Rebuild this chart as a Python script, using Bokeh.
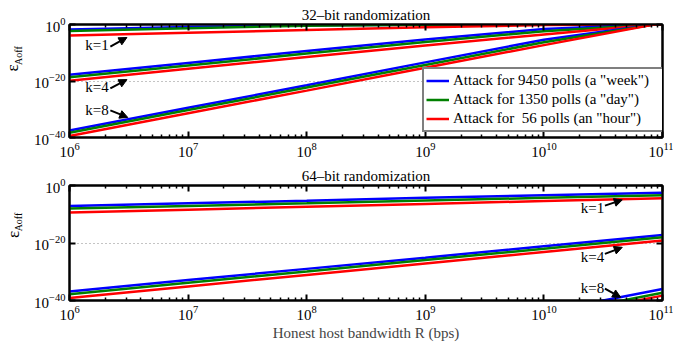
import numpy as np
from bokeh.plotting import figure
from bokeh.layouts import column
from bokeh.models import (Range1d, FixedTicker, LogAxis, Legend, LegendItem,
                          Label, Arrow, NormalHead, CustomJSTickFormatter)
from bokeh.embed import file_html
from bokeh.resources import INLINE

# ---------------- data (log10 of epsilon_Aoff) ----------------
R_TOP = [1e6, 1e7, 1e8, 1e9, 1e10, 8.5e10, 1e11]
R_BOT = [1e6, 1e7, 1e8, 1e9, 1e10, 1e11]

SERIES = ['Attack for 9450 polls (a "week")',
          'Attack for 1350 polls (a "day")',
          'Attack for  56 polls (an "hour")']
COLORS = ["#0000ff", "#008000", "#ff0000"]
K_LABELS = ["k=1", "k=4", "k=8"]
TITLES = ["32\u2013bit randomization", "64\u2013bit randomization"]
X_LABEL = "Honest host bandwidth R (bps)"
Y_SYMBOL = "\u03b5"
Y_SUB = "Aoff"

# 32-bit randomization
top_k1_week = [-1.8, -0.85, -0.25, -0.05, 0.0, 0.0, 0.0]
top_k1_day = [-2.3, -1.3, -0.45, -0.1, -0.02, 0.0, 0.0]
top_k1_hour = [-3.9, -2.9, -1.95, -1.0, -0.2, 0.0, 0.0]
top_k4_week = [-17.8, -13.6, -9.4, -5.3, -1.6, 0.0, 0.0]
top_k4_day = [-18.7, -14.5, -10.3, -6.2, -2.4, 0.0, 0.0]
top_k4_hour = [-19.9, -15.7, -11.5, -7.4, -3.5, 0.0, 0.0]
top_k8_week = [-37.5, -29.5, -21.5, -13.4, -5.4, 0.0, 0.0]
top_k8_day = [-38.3, -30.3, -22.3, -14.3, -6.3, 0.0, 0.0]
top_k8_hour = [-39.5, -31.4, -23.4, -15.3, -7.3, 0.0, 0.0]

# 64-bit randomization
bot_k1_week = [-7.1, -6.2, -5.3, -4.3, -3.4, -2.5]
bot_k1_day = [-8.0, -7.1, -6.2, -5.2, -4.3, -3.4]
bot_k1_hour = [-9.4, -8.4, -7.4, -6.4, -5.4, -4.4]
bot_k4_week = [-36.9, -32.9, -29.0, -25.1, -21.1, -17.2]
bot_k4_day = [-37.8, -33.8, -29.9, -25.9, -22.0, -18.0]
bot_k4_hour = [-39.1, -35.1, -31.1, -27.1, -23.1, -19.1]
bot_k8_week = [-76.0, -68.0, -60.0, -52.0, -44.0, -36.0]
bot_k8_day = [-77.3, -69.3, -61.3, -53.3, -45.3, -37.3]
bot_k8_hour = [-78.3, -70.3, -62.3, -54.3, -46.3, -38.3]

TOP = [[top_k1_week, top_k1_day, top_k1_hour],
       [top_k4_week, top_k4_day, top_k4_hour],
       [top_k8_week, top_k8_day, top_k8_hour]]
BOT = [[bot_k1_week, bot_k1_day, bot_k1_hour],
       [bot_k4_week, bot_k4_day, bot_k4_hour],
       [bot_k8_week, bot_k8_day, bot_k8_hour]]

# annotation anchors (R, log10 eps): text left/center, arrow start, arrow end
TOP_NOTES = [((1.36e6, -7.4), (2.21e6, -7.8), (3.05e6, -4.6)),
             ((1.36e6, -22.3), (2.21e6, -22.6), (3.05e6, -19.5)),
             ((1.36e6, -30.1), (2.21e6, -30.4), (3.1e6, -32.9))]
BOT_NOTES = [((2.05e10, -7.8), (3.27e10, -7.0), (4.58e10, -5.0)),
             ((2.05e10, -24.7), (3.27e10, -23.8), (4.58e10, -21.5)),
             ((2.05e10, -35.8), (3.27e10, -35.9), (4.44e10, -38.9))]
# vertical centres (log10 eps) of the y-label symbol and of its subscript
TOP_YLAB = (-15.4, -11.0)
BOT_YLAB = (-17.0, -12.7)

FONT = "Liberation Serif"
X_MAJOR = [1e6, 1e7, 1e8, 1e9, 1e10, 1e11]
X_MINOR = [m * 10.0 ** d for d in range(6, 11) for m in range(2, 10)]
Y_MAJOR = [1e-40, 1e-20, 1e0]

W = 673


def style_axis(ax, labels=True):
    ax.axis_line_color = "black"
    ax.axis_line_width = 2
    ax.major_tick_in = 6
    ax.major_tick_out = 0
    ax.minor_tick_in = 3
    ax.minor_tick_out = 0
    ax.major_tick_line_width = 2
    ax.minor_tick_line_width = 1.5
    ax.major_tick_line_color = "black"
    ax.minor_tick_line_color = "black"
    ax.major_label_text_font = FONT
    ax.major_label_text_font_size = "15px"
    ax.major_label_text_color = "black"
    if not labels:
        ax.major_label_text_font_size = "1px"
        ax.major_label_text_alpha = 0.0
        ax.major_label_standoff = 0


def text_axis(pos, text, size, standoff):
    ax = LogAxis(ticker=FixedTicker(ticks=[10.0 ** pos], minor_ticks=[]),
                 formatter=CustomJSTickFormatter(args=dict(s=text),
                                                 code="return s"))
    ax.axis_line_color = None
    ax.major_tick_line_color = None
    ax.minor_tick_line_color = None
    ax.major_tick_in = 0
    ax.major_tick_out = 0
    ax.minor_tick_in = 0
    ax.minor_tick_out = 0
    ax.major_label_orientation = "parallel"
    ax.major_label_text_font = FONT
    ax.major_label_text_font_size = size
    ax.major_label_text_color = "black"
    try:
        ax.major_label_standoff = standoff
    except Exception:
        ax.major_label_standoff = 0
    return ax


def make_panel(title, R, data, notes, ylab, height, b_top, b_bot, t_standoff,
               legend, xlabel):
    p = figure(width=W, height=height, x_axis_type="log", y_axis_type="log",
               x_range=Range1d(1e6, 1e11), y_range=Range1d(1e-40, 1.0),
               output_backend="svg", toolbar_location=None,
               min_border_left=67, min_border_right=11,
               min_border_top=b_top, min_border_bottom=b_bot)
    p.background_fill_color = "white"
    p.border_fill_color = "white"
    p.outline_line_color = "black"
    p.outline_line_width = 2

    p.title.text = title
    p.title.text_font = FONT
    p.title.text_font_size = "15px"
    p.title.text_font_style = "normal"
    p.title.text_color = "black"
    p.title.align = "center"
    p.title.vertical_align = "top"
    p.title.standoff = t_standoff

    xt = FixedTicker(ticks=X_MAJOR, minor_ticks=X_MINOR)
    yt = FixedTicker(ticks=Y_MAJOR, minor_ticks=[])
    bottom_ax = p.below[0]
    left_ax = p.left[0]
    bottom_ax.ticker = xt
    left_ax.ticker = yt
    style_axis(bottom_ax)
    style_axis(left_ax)
    bottom_ax.major_label_standoff = 5
    left_ax.major_label_standoff = 4
    top_ax = LogAxis(ticker=xt)
    right_ax = LogAxis(ticker=yt)
    style_axis(top_ax, labels=False)
    style_axis(right_ax, labels=False)
    p.add_layout(top_ax, "above")
    p.add_layout(right_ax, "right")

    # y label: symbol with its subscript, as label-only axes
    p.add_layout(text_axis(ylab[1], Y_SUB, "10px", 7), "left")
    p.add_layout(text_axis(ylab[0], Y_SYMBOL, "17px", -12), "left")

    p.xgrid.grid_line_color = None
    p.ygrid.grid_line_color = "#888888"
    p.ygrid.grid_line_dash = "1 3"
    p.ygrid.grid_line_width = 1

    x = np.array(R)
    renderers = []
    for kdata in data:
        rs = []
        for vals, c in zip(kdata, COLORS):
            r = p.line(x, 10.0 ** np.array(vals), line_color=c, line_width=2.5)
            rs.append(r)
        renderers.append(rs)

    for (tpos, a0, a1), lab in zip(notes, K_LABELS):
        p.add_layout(Label(x=tpos[0], y=10.0 ** tpos[1], text=lab,
                           text_font=FONT, text_font_size="15px",
                           text_baseline="middle", text_align="left",
                           text_color="black"))
        p.add_layout(Arrow(x_start=a0[0], y_start=10.0 ** a0[1],
                           x_end=a1[0], y_end=10.0 ** a1[1],
                           line_width=2, line_color="black",
                           end=NormalHead(size=8, fill_color="black",
                                          line_color="black")))

    if legend:
        items = [LegendItem(label=s, renderers=[renderers[0][i]])
                 for i, s in enumerate(SERIES)]
        lg = Legend(items=items, location=(353, 5))
        lg.label_text_font = FONT
        lg.label_text_font_size = "15px"
        lg.label_text_color = "black"
        lg.glyph_width = 23
        lg.glyph_height = 19
        lg.label_height = 19
        lg.label_width = 210
        lg.label_standoff = 4
        lg.spacing = 0
        lg.padding = 2
        lg.margin = 0
        lg.border_line_color = "black"
        lg.border_line_width = 2
        lg.background_fill_color = "white"
        lg.background_fill_alpha = 1.0
        p.add_layout(lg, "center")

    if xlabel:
        bottom_ax.axis_label = xlabel
        bottom_ax.axis_label_text_font = FONT
        bottom_ax.axis_label_text_font_size = "15px"
        bottom_ax.axis_label_text_font_style = "normal"
        bottom_ax.axis_label_standoff = 2
    return p


p1 = make_panel(TITLES[0], R_TOP, TOP, TOP_NOTES, TOP_YLAB, 162, 24, 25, 0,
                True, None)
p2 = make_panel(TITLES[1], R_BOT, BOT, BOT_NOTES, BOT_YLAB, 183, 23, 45, 0,
                False, X_LABEL)

layout = column(p1, p2, spacing=0)

open("out.html", "w").write(file_html(layout, INLINE))
